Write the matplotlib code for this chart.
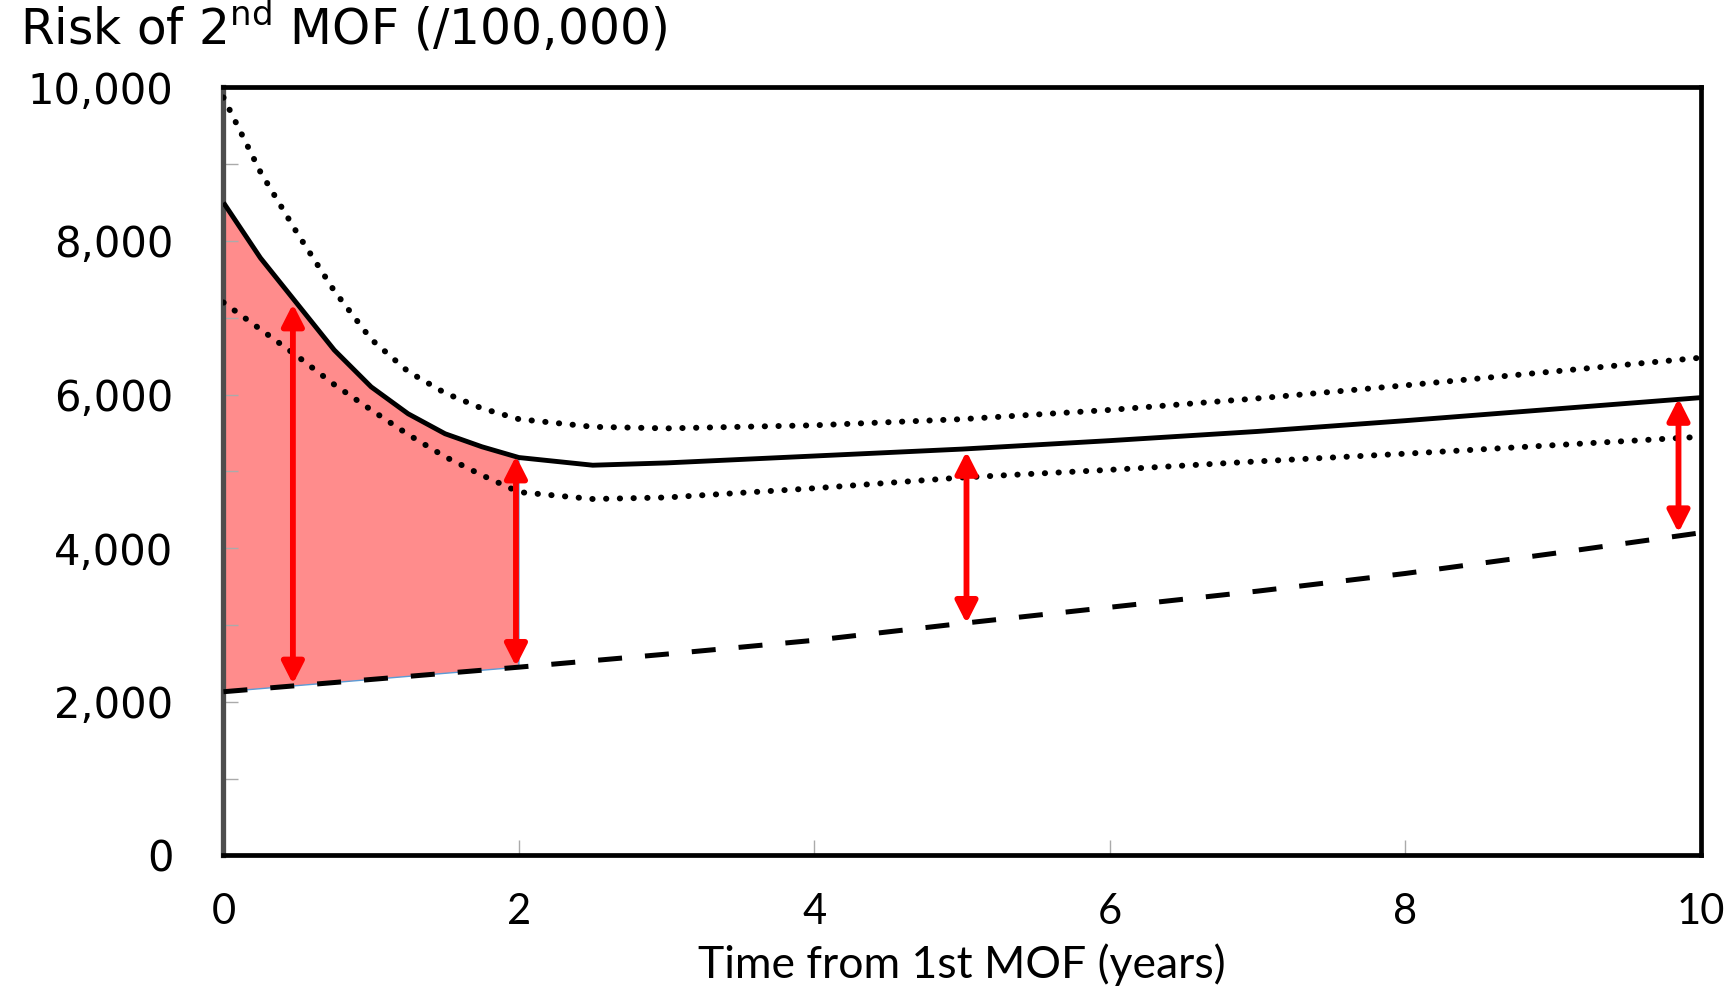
import numpy as np
import matplotlib
matplotlib.use("Agg")
import matplotlib.pyplot as plt
from matplotlib.ticker import MultipleLocator, FuncFormatter

plt.rcParams['mathtext.fontset'] = 'custom'
plt.rcParams['mathtext.rm'] = 'DejaVu Sans'

# curves (years, risk per 100,000)
t_curve = [0, 0.25, 0.5, 0.75, 1, 1.25, 1.5, 1.75, 2, 2.5, 3, 4, 5, 6, 7, 8, 9, 10]
risk_mid = [8500, 7780, 7180, 6580, 6100, 5750, 5490, 5320, 5180,
            5080, 5110, 5200, 5290, 5400, 5520, 5660, 5810, 5960]
risk_upper = [9870, 8900, 8100, 7350, 6720, 6300, 6020, 5820, 5680,
              5580, 5560, 5600, 5680, 5800, 5950, 6120, 6300, 6480]
risk_lower = [7200, 6850, 6500, 6130, 5800, 5480, 5190, 4950, 4730,
              4640, 4660, 4780, 4920, 5020, 5130, 5230, 5340, 5450]

t_base = [0, 1, 2, 3, 4, 5, 6, 7, 8, 9, 10]
risk_base = [2130, 2290, 2450, 2620, 2800, 3020, 3230, 3440, 3670, 3930, 4200]

# red double arrows
arrow_t = [0.47, 1.98, 5.03, 9.85]
arrow_top = [7180, 5200, 5260, 5950]
arrow_bot = [2230, 2460, 3020, 4200]

fig = plt.figure(figsize=(17.35, 9.89), dpi=100)
ax = fig.add_axes([0.1288, 0.1352, 0.8514, 0.7764])

# shaded area between curve and baseline over first 2 years
n2 = t_curve.index(2) + 1
poly_x = t_curve[:n2] + [t_base[2], t_base[0]]
poly_y = risk_mid[:n2] + [risk_base[2], risk_base[0]]
ax.fill(poly_x, poly_y, facecolor='#FF8C8C', edgecolor='#5B9BD5', lw=1.0, zorder=1)

ax.plot(t_curve, risk_mid, color='black', lw=3.5, solid_capstyle='butt', zorder=3)
ax.plot(t_curve, risk_upper, color='black', lw=4.3, linestyle=(0, (0.05, 2.25)),
        dash_capstyle='round', zorder=3)
ax.plot(t_curve, risk_lower, color='black', lw=4.3, linestyle=(0, (0.05, 2.25)),
        dash_capstyle='round', zorder=3)
ax.plot(t_base, risk_base, color='black', lw=3.6, linestyle=(0, (4.8, 4.6)), zorder=3)

for xa, y1, y2 in zip(arrow_t, arrow_top, arrow_bot):
    ax.annotate('', xy=(xa, y1), xytext=(xa, y2),
                arrowprops=dict(arrowstyle='<|-|>,head_length=0.65,head_width=0.33',
                                color='#FF0000', lw=4.2, shrinkA=0, shrinkB=0,
                                mutation_scale=20),
                zorder=4)

ax.set_xlim(0, 10)
ax.set_ylim(0, 10000)

ax.xaxis.set_major_locator(MultipleLocator(2))
ax.yaxis.set_major_locator(MultipleLocator(2000))
ax.yaxis.set_minor_locator(MultipleLocator(1000))
ax.yaxis.set_major_formatter(FuncFormatter(lambda v, p: f"{int(v):,}"))

ax.tick_params(axis='x', direction='in', length=11, width=1, color='#aaaaaa', pad=27)
ax.tick_params(axis='y', which='both', direction='in', length=11, width=1,
               color='#aaaaaa', pad=36)
ax.tick_params(axis='y', which='minor', labelleft=False)

for lab in ax.get_xticklabels():
    lab.set_fontfamily('Lato')
    lab.set_fontsize(30)
for lab in ax.get_yticklabels():
    lab.set_fontfamily('DejaVu Sans')
    lab.set_fontsize(30)

for side in ['top', 'right', 'bottom']:
    ax.spines[side].set_linewidth(3.4)
    ax.spines[side].set_color('black')
ax.spines['left'].set_linewidth(3.8)
ax.spines['left'].set_color('#4d4d4d')

ax.set_xlabel('Time from 1st MOF (years)', fontfamily='Lato', fontsize=32, labelpad=9)

fig.text(0.0115, 0.973, r"Risk of 2$^{\mathrm{nd}}$ MOF (/100,000)",
         fontfamily='DejaVu Sans', fontsize=35, ha='left', va='center')

fig.savefig('out.png', dpi=100)
